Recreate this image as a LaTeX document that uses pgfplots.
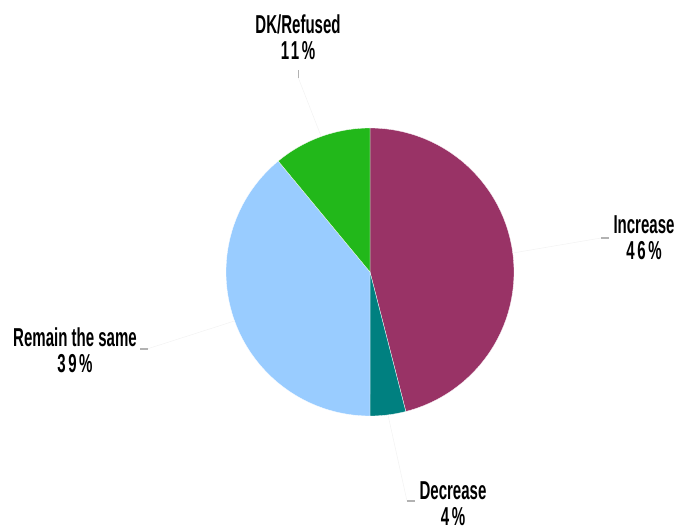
\documentclass[border=0pt]{standalone}
\usepackage{pgfplots}
\usepackage{pgfplotstable}
\pgfplotsset{compat=1.18}
\usepackage{fontspec}
\setmainfont[FakeStretch=0.58]{Liberation Sans Bold}
\definecolor{cInc}{HTML}{993366}
\definecolor{cDec}{HTML}{008080}
\definecolor{cRem}{HTML}{99CCFF}
\definecolor{cDK}{HTML}{22B81A}
\newcommand\pct[1]{{\addfontfeature{LetterSpace=10}#1}}
\pgfplotstableread{
label value
Increase 46
Decrease 4
Remain 39
DK 11
}\piedata
\begin{document}
\begin{tikzpicture}
\pgfplotstablegetelem{0}{value}\of\piedata \let\vInc\pgfplotsretval
\pgfplotstablegetelem{1}{value}\of\piedata \let\vDec\pgfplotsretval
\pgfplotstablegetelem{2}{value}\of\piedata \let\vRem\pgfplotsretval
\pgfplotstablegetelem{3}{value}\of\piedata \let\vDK\pgfplotsretval
\pgfmathsetmacro\aA{90-3.6*\vInc}
\pgfmathsetmacro\aB{\aA-3.6*\vDec}
\pgfmathsetmacro\aC{\aB-3.6*\vRem}
\pgfmathsetmacro\aD{\aC-3.6*\vDK}
\begin{axis}[
  width=675bp, height=527bp, scale only axis,
  xmin=0, xmax=675, ymin=0, ymax=527,
  axis lines=none, clip=false,
]
\path (rel axis cs:0,0) rectangle (rel axis cs:1,1);
\addplot[fill=cInc, draw=white, line width=0.3pt, domain=\aA:90, samples=90, variable=\t]
  ({370+144*cos(t)},{255+144*sin(t)}) -- (axis cs:370,255) -- cycle;
\addplot[fill=cDec, draw=white, line width=0.3pt, domain=\aB:\aA, samples=20, variable=\t]
  ({370+144*cos(t)},{255+144*sin(t)}) -- (axis cs:370,255) -- cycle;
\addplot[fill=cRem, draw=white, line width=0.3pt, domain=\aC:\aB, samples=90, variable=\t]
  ({370+144*cos(t)},{255+144*sin(t)}) -- (axis cs:370,255) -- cycle;
\addplot[fill=cDK, draw=white, line width=0.3pt, domain=\aD:\aC, samples=30, variable=\t]
  ({370+144*cos(t)},{255+144*sin(t)}) -- (axis cs:370,255) -- cycle;
% leader lines
\addplot[gray!10, line width=0.5pt] coordinates {(513,274) (601,289)};
\addplot[gray!10, line width=0.5pt] coordinates {(321,391) (298,450)};
\addplot[gray!10, line width=0.5pt] coordinates {(234.5,206) (147,178)};
\addplot[gray!10, line width=0.5pt] coordinates {(388,112) (407,26)};
% dashes
\addplot[gray!60, line width=1.2pt] coordinates {(601,289) (609,289)};
\addplot[gray!60, line width=1pt] coordinates {(298,449) (298,457)};
\addplot[gray!60, line width=1.2pt] coordinates {(140,178) (148,178)};
\addplot[gray!60, line width=1.2pt] coordinates {(407,26) (415,26)};
% labels
\tikzset{lab/.style={overlay, align=center, inner sep=0pt, font=\fontsize{26}{26}\selectfont}}
\node[lab] at (axis cs:644,289) {Increase\\\pct{46\%}};
\node[lab] at (axis cs:298,490) {DK/Refused\\\pct{11\%}};
\node[lab] at (axis cs:75,177) {Remain the same\\\pct{39\%}};
\node[lab] at (axis cs:453,23) {Decrease\\\pct{4\%}};
\end{axis}
\end{tikzpicture}
\end{document}
